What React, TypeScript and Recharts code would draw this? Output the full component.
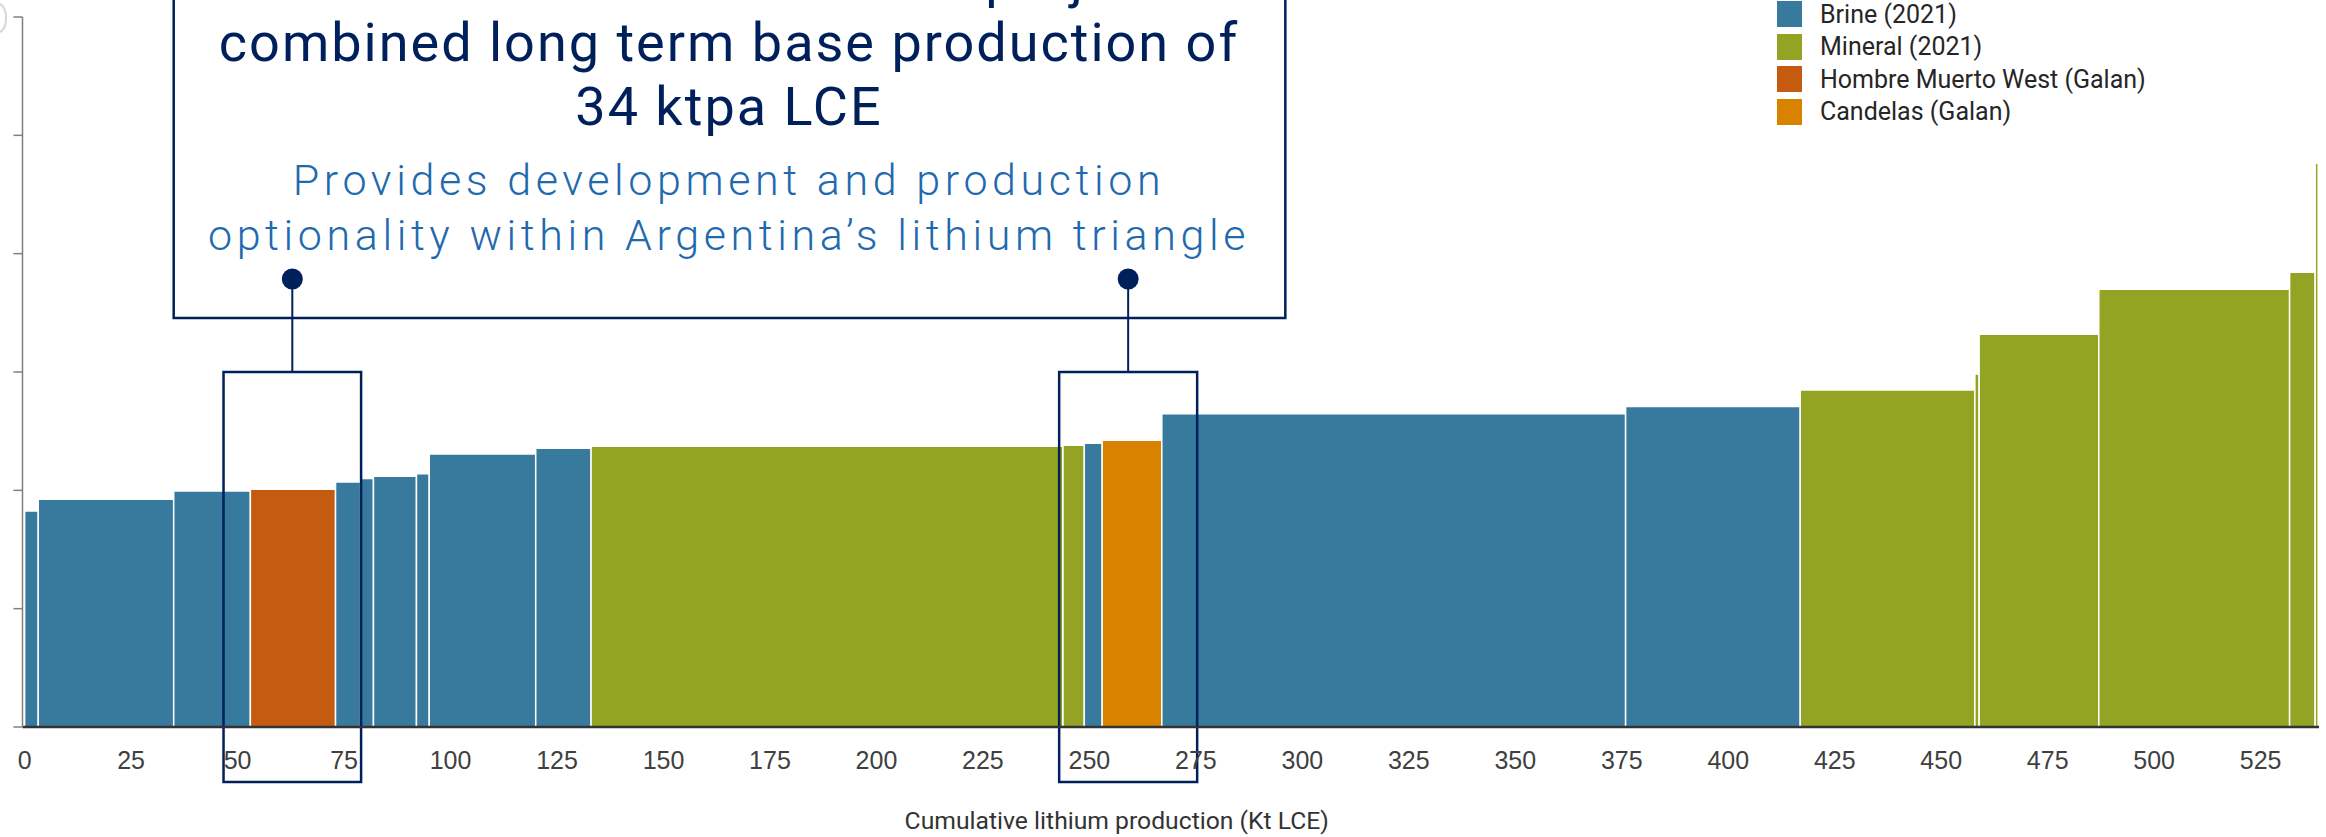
import React from 'react';
import {
  ComposedChart,
  XAxis,
  YAxis,
  ReferenceArea,
  ReferenceLine,
  ReferenceDot,
  Legend,
} from 'recharts';

// Cost curve: one block per operation, ordered by cost
const projectTypes = [
  'brine', 'brine', 'brine', 'hmw', 'brine', 'brine', 'brine', 'brine', 'brine', 'brine',
  'mineral', 'mineral', 'brine', 'candelas', 'brine', 'brine',
  'mineral', 'mineral', 'mineral', 'mineral', 'mineral', 'mineral',
];
// annual production, kt LCE
const capacities = [
  3.2, 31.8, 18.0, 20.0, 5.9, 3.0, 10.1, 3.0, 25.0, 13.0,
  110.8, 5.0, 4.2, 14.0, 108.9, 41.0,
  41.0, 1.0, 28.1, 44.8, 6.0, 0.7,
];
// cash cost, US$/t LCE
const costs = [
  3650, 3850, 3990, 4020, 4140, 4200, 4240, 4280, 4615, 4710,
  4745, 4760, 4795, 4845, 5295, 5415,
  5695, 5965, 6640, 7400, 7685, 9530,
];

const xTicks = [0, 25, 50, 75, 100, 125, 150, 175, 200, 225, 250, 275, 300, 325, 350, 375, 400, 425, 450, 475, 500, 525];
const yTicks = [0, 2000, 4000, 6000, 8000, 10000, 12000];

const legendKeys = ['brine', 'mineral', 'hmw', 'candelas'];
const legendLabels = ['Brine (2021)', 'Mineral (2021)', 'Hombre Muerto West (Galan)', 'Candelas (Galan)'];

// callout boxes around the two Galan projects
const highlightStarts = [46.7, 242.9];
const highlightEnds = [79.0, 275.3];

const COLORS: Record<string, string> = {
  brine: '#387a9e',
  mineral: '#93a323',
  hmw: '#c55a11',
  candelas: '#d98200',
};
const NAVY = '#00205b';

const rows = (() => {
  let acc = 0;
  return capacities.map((cap, i) => {
    const start = acc;
    acc += cap;
    return { start, end: acc, mid: start + cap / 2, cost: costs[i], type: projectTypes[i] };
  });
})();

const renderLegend = () => (
  <div style={{ fontFamily: 'Roboto, sans-serif', fontSize: 25, color: '#262626' }}>
    {legendKeys.map((k, i) => (
      <div key={k} style={{ display: 'flex', alignItems: 'center', height: 32.5 }}>
        <span style={{ display: 'inline-block', width: 25, height: 26, background: COLORS[k], marginRight: 18 }} />
        <span>{legendLabels[i]}</span>
      </div>
    ))}
  </div>
);

// y values are not labelled, only tick marks are shown
const EmptyTick = () => <g />;

const App: React.FC = () => {
  return (
    <div style={{ position: 'absolute', left: 0, top: 0, width: 2326, height: 837, background: '#fff', overflow: 'hidden' }}>
      <ComposedChart width={2326} height={837} data={rows} margin={{ top: 17, right: 7, bottom: 0, left: 0 }}>
        {rows.map((r, i) => (
          <ReferenceArea
            key={`bar-${i}`}
            x1={r.start}
            x2={r.end}
            y1={0}
            y2={r.cost}
            fill={COLORS[r.type]}
            fillOpacity={1}
            stroke="#ffffff"
            strokeWidth={1.5}
            ifOverflow="visible"
          />
        ))}

        <ReferenceArea x1={35.0} x2={296.0} y1={6912} y2={13500} fill="#ffffff" fillOpacity={1} stroke={NAVY} strokeWidth={2.5} ifOverflow="visible" />
        {highlightStarts.map((s, i) => (
          <ReferenceArea
            key={`hl-${i}`}
            x1={s}
            x2={highlightEnds[i]}
            y1={-930}
            y2={6000}
            fill="none"
            fillOpacity={0}
            stroke={NAVY}
            strokeWidth={2.5}
            ifOverflow="visible"
          />
        ))}
        {highlightStarts.map((s, i) => (
          <ReferenceLine
            key={`ln-${i}`}
            segment={[{ x: (s + highlightEnds[i]) / 2, y: 7572 }, { x: (s + highlightEnds[i]) / 2, y: 6000 }]}
            stroke={NAVY}
            strokeWidth={2}
            ifOverflow="visible"
          />
        ))}
        {highlightStarts.map((s, i) => (
          <ReferenceDot key={`dot-${i}`} x={(s + highlightEnds[i]) / 2} y={7572} r={10.5} fill={NAVY} stroke="none" ifOverflow="visible" />
        ))}

        <XAxis
          type="number"
          dataKey="mid"
          domain={[-0.5, 538.7]}
          allowDataOverflow
          ticks={xTicks}
          interval={0}
          height={110}
          tickLine={false}
          tickSize={6}
          tickMargin={18}
          axisLine={{ stroke: '#333333', strokeWidth: 2.5 }}
          tick={{ fontSize: 25, fill: '#404040', fontFamily: '"Liberation Sans", Arial, sans-serif' }}
          label={{
            value: 'Cumulative lithium production (Kt LCE)',
            position: 'insideBottom',
            offset: 8,
            dx: -54,
            fill: '#333333',
            fontSize: 24.7,
            fontFamily: 'Roboto, sans-serif',
          }}
        />
        <YAxis
          type="number"
          domain={[0, 12000]}
          allowDataOverflow
          ticks={yTicks}
          interval={0}
          width={22.5}
          tick={EmptyTick}
          tickSize={9}
          tickLine={{ stroke: '#7f7f7f', strokeWidth: 1.5 }}
          axisLine={{ stroke: '#7f7f7f', strokeWidth: 1.5 }}
        />
        <Legend
          layout="vertical"
          align="center"
          verticalAlign="middle"
          wrapperStyle={{ left: 1777, top: -2, width: 500 }}
          content={renderLegend}
        />
      </ComposedChart>

      <svg width={2326} height={837} style={{ position: 'absolute', left: 0, top: 0, pointerEvents: 'none' }}>
        <path d="M0 4 C 8 8, 8 28, 0 32" stroke="#d6d6d6" strokeWidth={2} fill="none" />
        <g fontFamily="Roboto, sans-serif" textAnchor="middle">
          <g fill={NAVY} fontSize={54} letterSpacing={2}>
            <text x={729} y={-3}>Galan’s HMW and Candelas projects</text>
            <text x={729} y={61}>combined long term base production of</text>
            <text x={729} y={125}>34 ktpa LCE</text>
          </g>
          <g fill="#1f6aae" fontSize={43} fontWeight={300} letterSpacing={4.6}>
            <text x={729} y={195}>Provides development and production</text>
            <text x={729} y={250}>optionality within Argentina’s lithium triangle</text>
          </g>
        </g>
      </svg>
    </div>
  );
};

export default App;
